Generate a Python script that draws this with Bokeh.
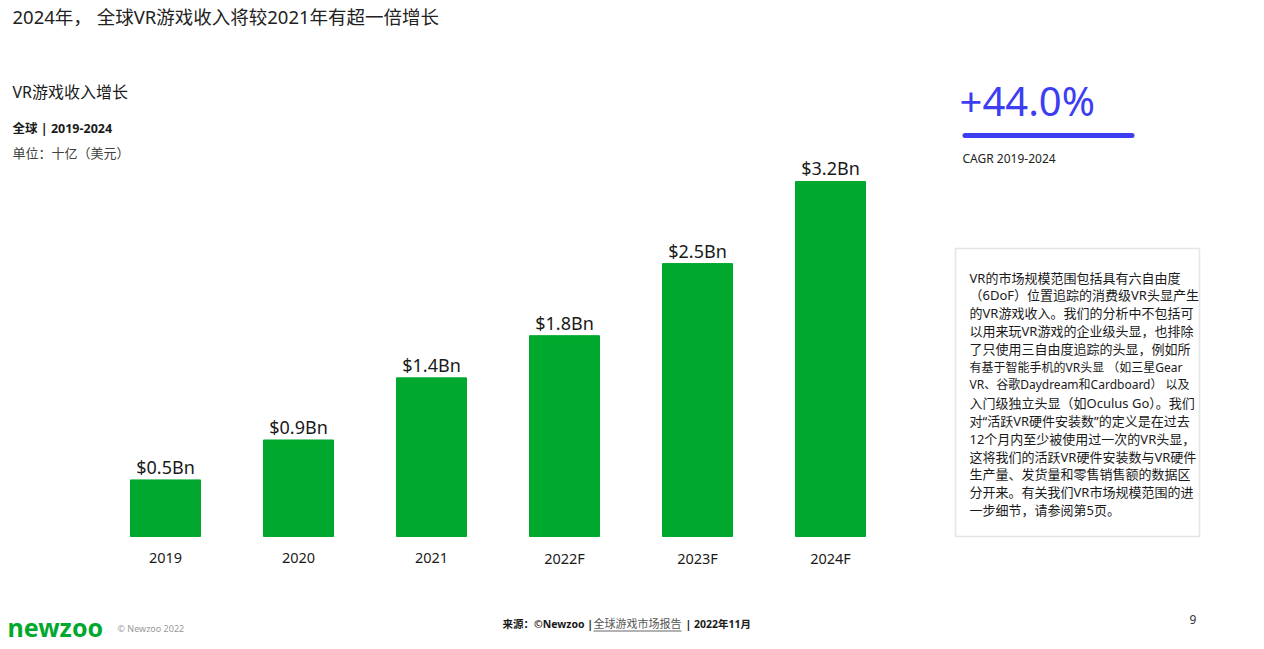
from bokeh.plotting import figure
from bokeh.models import ColumnDataSource, Label, BoxAnnotation, Range1d
from bokeh.core.properties import value
from bokeh.embed import file_html
from bokeh.resources import INLINE

# ---------------- data ----------------
categories = ["2019", "2020", "2021", "2022F", "2023F", "2024F"]
revenue_bn = [0.51, 0.87, 1.43, 1.81, 2.46, 3.20]
value_labels = ["$0.5Bn", "$0.9Bn", "$1.4Bn", "$1.8Bn", "$2.5Bn", "$3.2Bn"]

title_text = "2024年， 全球VR游戏收入将较2021年有超一倍增长"
chart_title = "VR游戏收入增长"
chart_scope = "全球 | 2019-2024"
chart_unit = "单位：十亿（美元）"
cagr_text = "+44.0%"
cagr_label = "CAGR 2019-2024"
note_lines = [
    "VR的市场规模范围包括具有六自由度",
    "（6DoF）位置追踪的消费级VR头显产生",
    "的VR游戏收入。我们的分析中不包括可",
    "以用来玩VR游戏的企业级头显，也排除",
    "了只使用三自由度追踪的头显，例如所",
    "有基于智能手机的VR头显 （如三星Gear",
    "VR、谷歌Daydream和Cardboard） 以及",
    "入门级独立头显（如Oculus Go）。我们",
    "对“活跃VR硬件安装数”的定义是在过去",
    "12个月内至少被使用过一次的VR头显，",
    "这将我们的活跃VR硬件安装数与VR硬件",
    "生产量、发货量和零售销售额的数据区",
    "分开来。有关我们VR市场规模范围的进",
    "一步细节，请参阅第5页。",
]
source_a = "来源：©Newzoo |"
source_b = "全球游戏市场报告"
source_c = "| 2022年11月"
logo_text = "newzoo"
copyright_text = "© Newzoo 2022"
page_no = "9"

# ---------------- layout ----------------
W, H = 1260, 645
GREEN = "#00a82d"
BLUE = "#3d3df2"
CJK = "'Noto Sans', 'Noto Sans CJK SC'"

def sx(px):
    return px

def sy(py):
    return H - py

px_per_cat = 133.0
first_center = 165.0
px_per_bn = 110.94
base_from_bottom = H - 536.0

x_start = -first_center / px_per_cat
y_start = -base_from_bottom / px_per_bn

p = figure(width=W, height=H, output_backend="svg", toolbar_location=None,
           x_range=Range1d(x_start, x_start + W / px_per_cat),
           y_range=Range1d(y_start, y_start + H / px_per_bn),
           x_axis_location=None, y_axis_location=None, min_border=0,
           outline_line_color=None, background_fill_color="white",
           border_fill_color="white")
p.grid.visible = False

xs = list(range(len(categories)))
src = ColumnDataSource(dict(x=xs, top=revenue_bn, cat=categories, lab=value_labels,
                            zero=[0] * len(xs)))

p.vbar(x="x", top="top", bottom=0, width=70 / px_per_cat, source=src,
       fill_color=GREEN, line_color=GREEN)

p.text(x="x", y="top", text="lab", source=src, text_align="center",
       text_baseline="bottom", y_offset=-1, text_font=value("Noto Sans"),
       text_font_size="18px", text_color="#1a1a1a")

p.text(x="x", y="zero", text="cat", source=src, text_align="center",
       text_baseline="middle", y_offset=21, text_font=value("Noto Sans"),
       text_font_size="14.5px", text_color="#1a1a1a")

def label(txt, px, py, size, color="#1a1a1a", font=CJK, style="normal", align="left"):
    p.add_layout(Label(x=sx(px), y=sy(py), x_units="screen", y_units="screen",
                       text=txt, text_font=font, text_font_size=size,
                       text_color=color, text_font_style=style,
                       text_align=align, text_baseline="middle"))

def box(l, r, t, b, **kw):
    p.add_layout(BoxAnnotation(left=sx(l), right=sx(r), top=sy(t), bottom=sy(b),
                               left_units="screen", right_units="screen",
                               top_units="screen", bottom_units="screen", **kw))

label(title_text, 12, 16, "18.5px", "#222222")
label(chart_title, 12, 91, "16px", "#1a1a1a")
label(chart_scope, 12, 128, "12.5px", "#1a1a1a", style="bold")
label(chart_unit, 12, 152, "13px", "#404040")

label(cagr_text, 959, 100, "40px", BLUE, font="Noto Sans")
box(962, 1134, 132.5, 137.5, fill_color=BLUE, fill_alpha=1, line_color=None,
    border_radius=3)
label(cagr_label, 962, 158, "12px", "#222222")

box(955, 1199, 248, 536, fill_color=None, line_color="#a8a8a8", line_width=1.5)
for i, ln in enumerate(note_lines):
    size = "12px" if i in (5, 6) else "13px"
    label(ln, 969, 277 + i * 17.9, size, "#1a1a1a")

label(logo_text, 7, 626, "25px", GREEN, font="Noto Sans", style="bold")
label(copyright_text, 117, 628, "9px", "#9a9a9a", font="Noto Sans")

label(source_a, 502, 623, "10.5px", "#1a1a1a", style="bold")
label(source_b, 593, 623, "11px", "#555555")
box(593, 681, 630, 631, fill_color="#666666", fill_alpha=1, line_color=None)
label(source_c, 685, 623, "10.5px", "#1a1a1a", style="bold")
label(page_no, 1189, 619, "12px", "#333333", font="Noto Sans")

open("out.html", "w").write(file_html(p, INLINE))
